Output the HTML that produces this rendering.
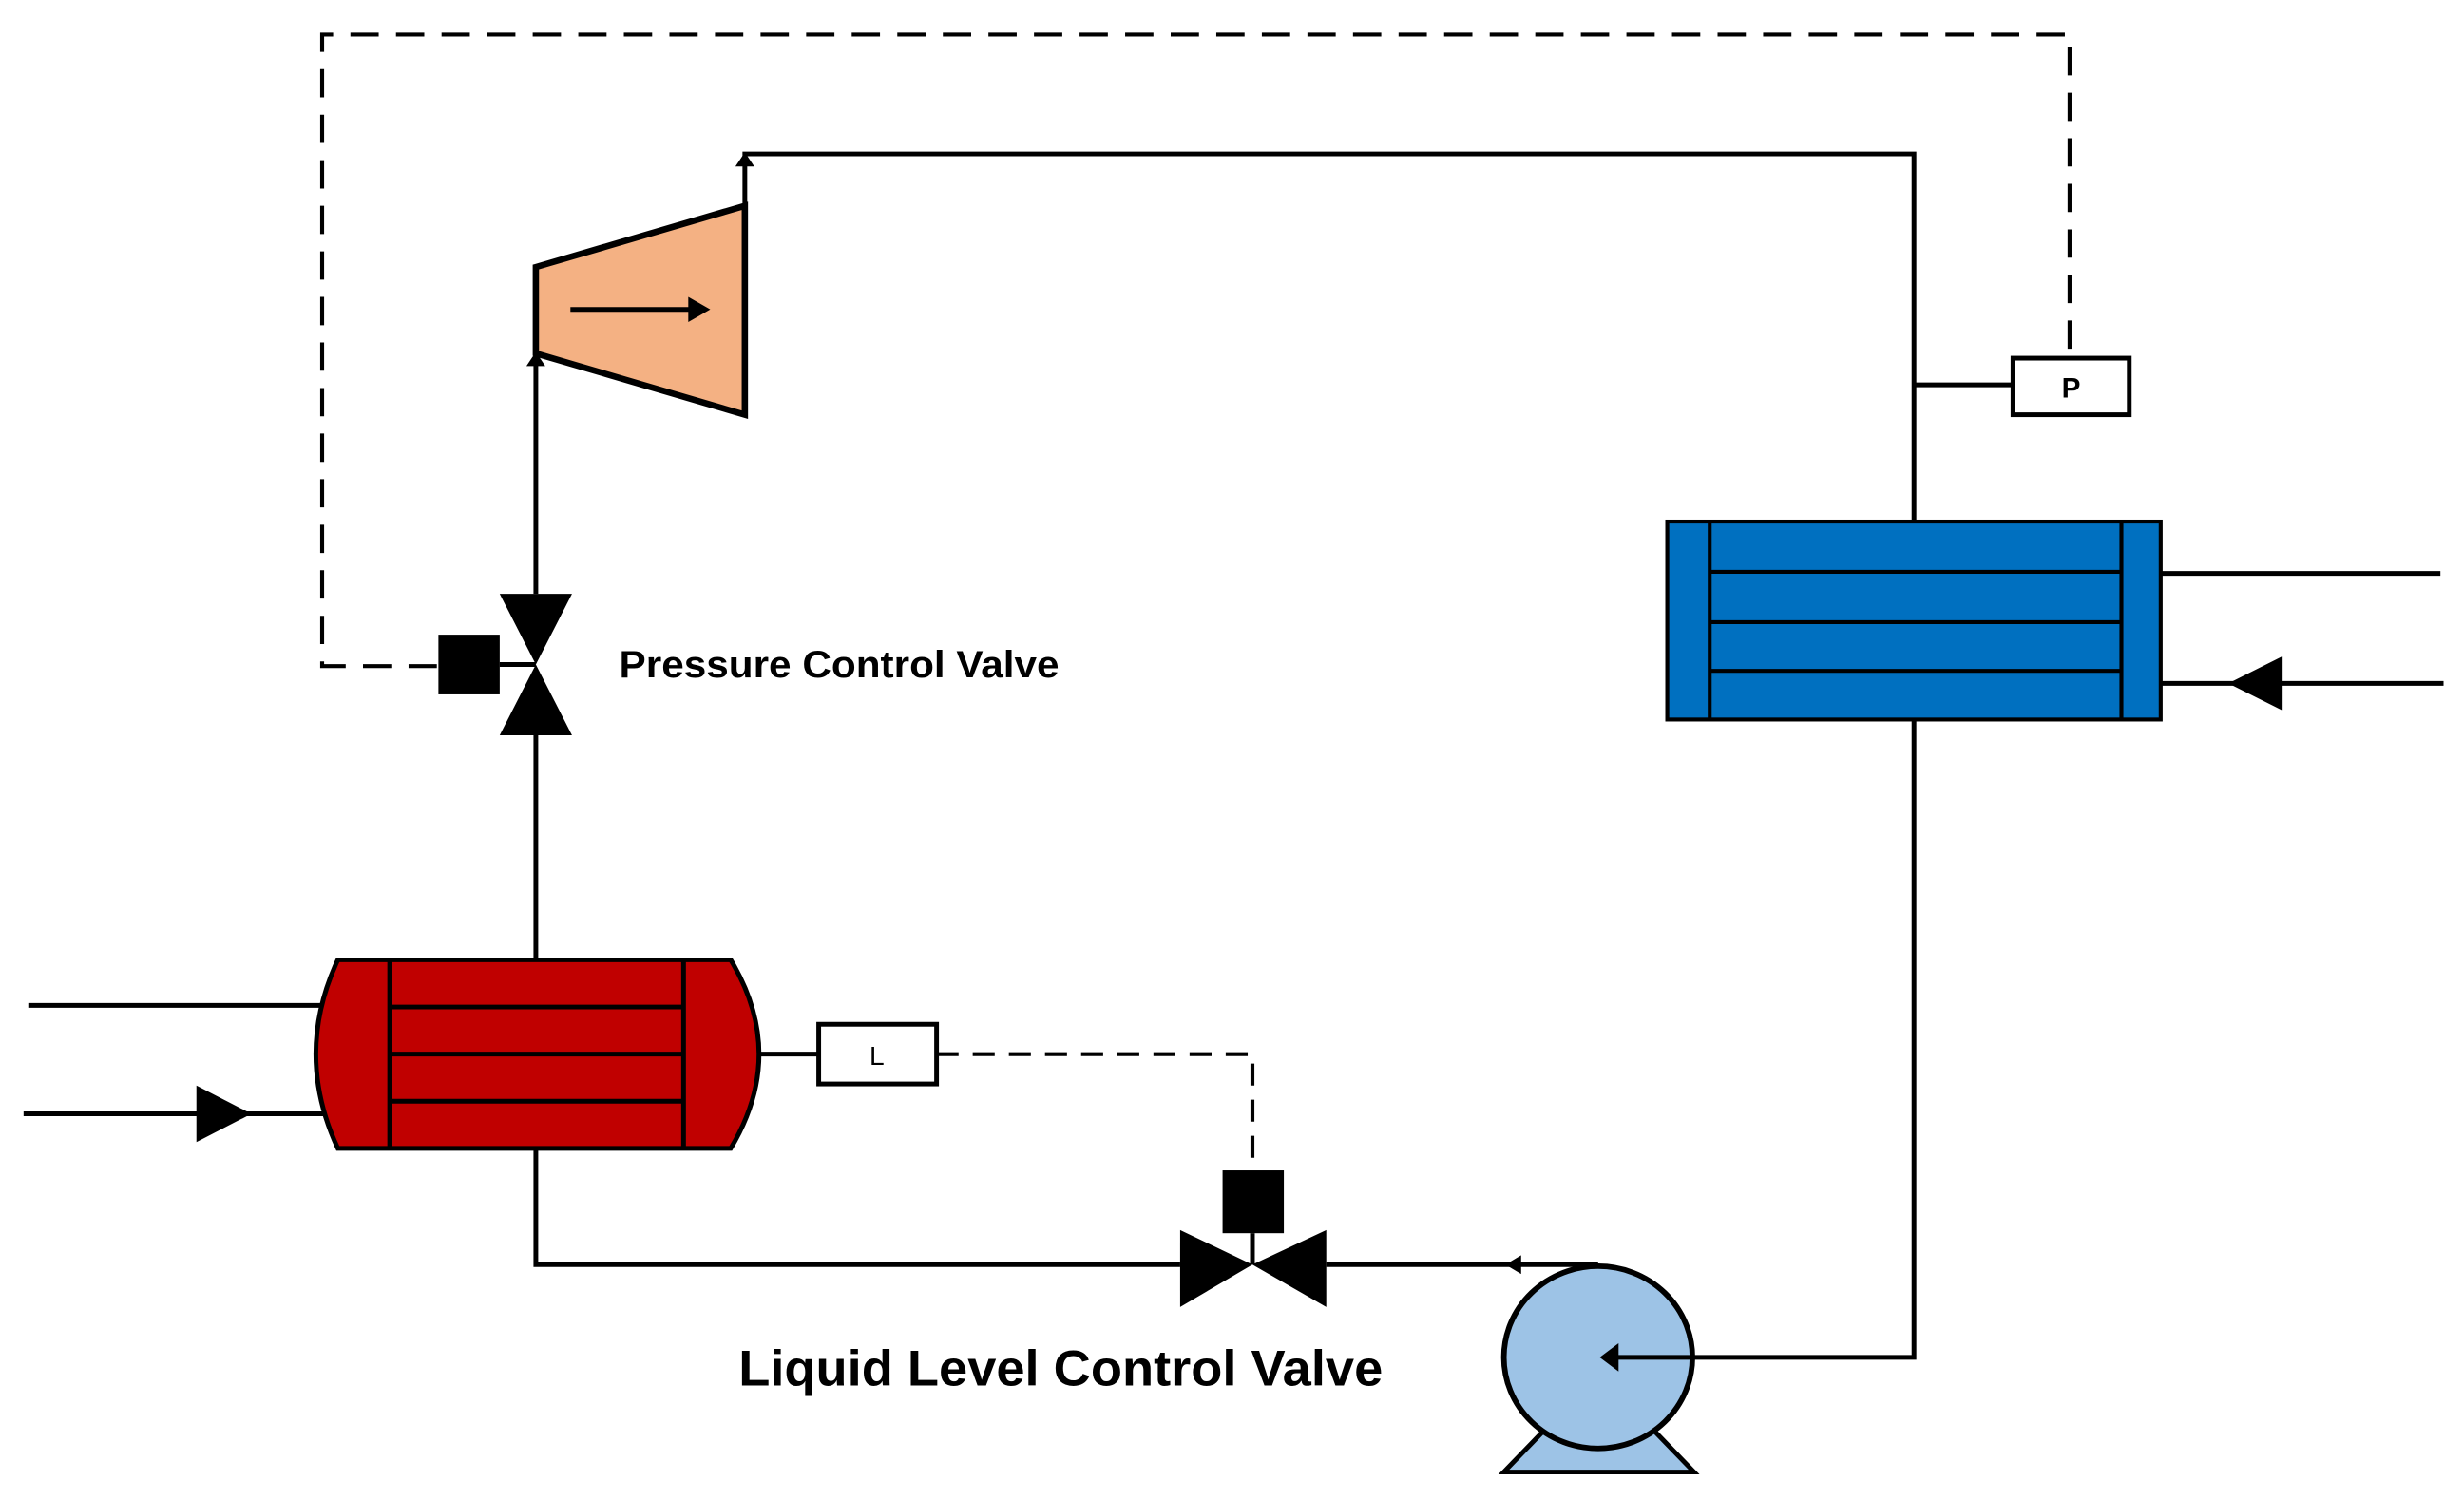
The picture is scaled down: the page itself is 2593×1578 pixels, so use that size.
<!DOCTYPE html>
<html><head><meta charset="utf-8"><style>html,body{margin:0;padding:0;background:#fff}svg{display:block}</style></head>
<body>
<svg width="2593" height="1578" viewBox="0 0 1568 954.2" preserveAspectRatio="none" xmlns="http://www.w3.org/2000/svg">
<g fill="none" stroke="#000" stroke-width="3">
  <!-- dashed control lines -->
  <path d="M278,424 H205 V22 H1317 V228" stroke-dasharray="18,11" stroke-width="2.5"/>
  <path d="M596,671 H797 V745" stroke-dasharray="14,9" stroke-width="2.5"/>
  <!-- pipes -->
  <path d="M474,131 V98 H1218 V332"/>
  <path d="M1218,245 H1281"/>
  <path d="M341,225 V378"/>
  <path d="M341,468 V611"/>
  <path d="M341,731 V805 H751"/>
  <path d="M844,805 H1017"/>
  <path d="M1218,458 V864 H1020"/>
  <path d="M318,423 H341"/>
  <path d="M483,671 H521"/>
  <path d="M797,785 V805"/>
  <path d="M18,640 H205"/>
  <path d="M15,709 H210"/>
  <path d="M1375,365 H1553"/>
  <path d="M1375,435 H1555"/>
</g>
<!-- compressor -->
<polygon points="341,170 474,131 474,264 341,225" fill="#f4b183" stroke="#000" stroke-width="4"/>
<line x1="363" y1="197" x2="440" y2="197" stroke="#000" stroke-width="3"/>
<polygon points="438,189 452,197 438,205" fill="#000"/>
<!-- small arrowheads -->
<polygon points="335,233 341,224 347,233" fill="#000"/>
<polygon points="468,106 474,97 480,106" fill="#000"/>
<polygon points="968,799 958,805 968,811" fill="#000"/>
<polygon points="1030,857 1018,864 1030,871" fill="#000"/>
<!-- pressure valve -->
<polygon points="318,378 364,378 341,423" fill="#000"/>
<polygon points="318,468 364,468 341,423" fill="#000"/>
<rect x="279" y="404" width="39" height="38" fill="#000"/>
<!-- level valve -->
<polygon points="751,783 751,832 797,805" fill="#000"/>
<polygon points="844,783 844,832 797,805" fill="#000"/>
<rect x="778" y="745" width="39" height="40" fill="#000"/>
<!-- red HX -->
<path d="M215,611 L465,611 Q501,671 465,731 L215,731 Q187,671 215,611 Z" fill="#c00000" stroke="#000" stroke-width="3"/>
<g stroke="#000" stroke-width="3">
<line x1="248" y1="611" x2="248" y2="731"/><line x1="435" y1="611" x2="435" y2="731"/>
<line x1="248" y1="641" x2="435" y2="641"/><line x1="248" y1="671" x2="435" y2="671"/><line x1="248" y1="701" x2="435" y2="701"/>
</g>
<polygon points="125,691 160,709 125,727" fill="#000"/>
<!-- L box -->
<rect x="521" y="652" width="75" height="38" fill="#fff" stroke="#000" stroke-width="3"/>
<text x="558" y="678" font-family="Liberation Sans, sans-serif" font-size="17" text-anchor="middle">L</text>
<!-- P box -->
<rect x="1281" y="228" width="74" height="36" fill="#fff" stroke="#000" stroke-width="3"/>
<text x="1318" y="253" font-family="Liberation Sans, sans-serif" font-size="18" font-weight="bold" text-anchor="middle">P</text>
<!-- blue HX -->
<rect x="1061" y="332" width="314" height="126" fill="#0070c0" stroke="#000" stroke-width="2.5"/>
<g stroke="#000" stroke-width="2.5">
<line x1="1088" y1="332" x2="1088" y2="458"/><line x1="1350" y1="332" x2="1350" y2="458"/>
<line x1="1088" y1="364" x2="1350" y2="364"/><line x1="1088" y1="396" x2="1350" y2="396"/><line x1="1088" y1="427" x2="1350" y2="427"/>
</g>
<polygon points="1452,418 1418,435 1452,452" fill="#000"/>
<!-- pump -->
<polygon points="985,908 957,937 1078,937 1050,908" fill="#9dc3e6" stroke="#000" stroke-width="3"/>
<ellipse cx="1017" cy="864" rx="60" ry="58" fill="#9dc3e6" stroke="#000" stroke-width="3.5"/>
<line x1="1077" y1="864" x2="1025" y2="864" stroke="#000" stroke-width="3"/>
<polygon points="1030,855 1018,864 1030,873" fill="#000"/>
<!-- labels -->
<text x="394" y="431" font-family="Liberation Sans, sans-serif" font-size="24" font-weight="bold" textLength="280" lengthAdjust="spacingAndGlyphs">Pressure Control Valve</text>
<text x="470" y="882" font-family="Liberation Sans, sans-serif" font-size="32" font-weight="bold" textLength="410" lengthAdjust="spacingAndGlyphs">Liquid Level Control Valve</text>
</svg>
</body></html>
